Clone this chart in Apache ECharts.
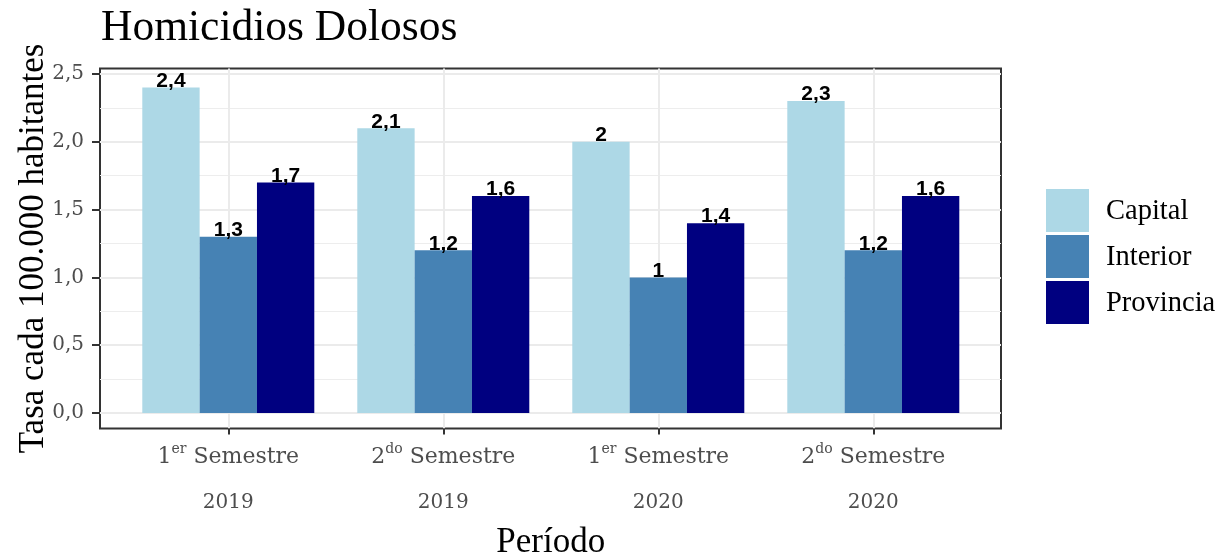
<!DOCTYPE html>
<html>
<head>
<meta charset="utf-8">
<script src="https://cdn.jsdelivr.net/npm/echarts@6/dist/echarts.min.js"></script>
<style>
html,body{margin:0;padding:0;background:#fff;}
#chart{width:1222px;height:557px;}
</style>
</head>
<body>
<div id="chart"></div>
<script>
// ---- data ----
const semNum = ['1', '2', '1', '2'];
const semSup = ['er', 'do', 'er', 'do'];
const years = ['2019', '2019', '2020', '2020'];
const categories = semNum.map((n, i) => n + semSup[i] + ' Semestre ' + years[i]);
const seriesNames = ['Capital', 'Interior', 'Provincia'];
const capital = [2.4, 2.1, 2.0, 2.3];
const interior = [1.3, 1.2, 1.0, 1.2];
const provincia = [1.7, 1.6, 1.4, 1.6];
const yTicks = [0, 0.5, 1.0, 1.5, 2.0, 2.5];

const colors = ['#ADD8E6', '#4682B4', '#000080'];
const serif = 'Liberation Serif';
const tickFont = 'DejaVu Serif';
const fmt = v => String(v).replace('.', ',');

const chart = echarts.init(document.getElementById('chart'));

function barSeries(name, data, idx) {
  return {
    name: name,
    type: 'bar',
    xAxisIndex: 1,
    yAxisIndex: 1,
    data: data,
    barGap: '0%',
    barCategoryGap: '20%',
    itemStyle: { color: colors[idx] },
    label: {
      show: true,
      position: 'top',
      distance: -4,
      formatter: p => fmt(p.value),
      fontFamily: 'Liberation Sans',
      fontWeight: 'bold',
      fontSize: 21,
      color: '#000'
    }
  };
}

const gridBase = { outerBoundsMode: 'none', containLabel: false };

chart.setOption({
  animation: false,
  backgroundColor: '#fff',
  title: {
    text: 'Homicidios Dolosos',
    left: 96,
    top: 2,
    padding: [5, 5, 5, 5],
    textStyle: { fontFamily: serif, fontWeight: 'normal', fontSize: 43.5, color: '#000' }
  },
  legend: {
    data: seriesNames,
    orient: 'vertical',
    left: 1046,
    top: 189,
    padding: 0,
    itemWidth: 43,
    itemHeight: 43,
    itemGap: 3,
    icon: 'rect',
    formatter: n => '{a|' + n + '}',
    textStyle: {
      rich: { a: { fontFamily: serif, fontSize: 28.5, color: '#000', padding: [3, 0, 0, 12] } }
    }
  },
  grid: [
    // A: y axis + horizontal grid lines across the full panel width
    Object.assign({ left: 100, top: 74, width: 901, height: 339 }, gridBase),
    // B: bars
    Object.assign({ left: 120.8, top: 74, width: 860, height: 339 }, gridBase),
    // C: x labels, ticks, vertical grid lines
    Object.assign({ left: 228.3, top: 68.5, width: 645, height: 360 }, gridBase),
    // D: panel border
    Object.assign({ left: 100, top: 68.5, width: 901, height: 360, show: true, borderColor: '#333333', borderWidth: 2, backgroundColor: 'transparent' }, gridBase)
  ],
  xAxis: [
    { gridIndex: 0, type: 'value', show: false, min: 0, max: 1 },
    { gridIndex: 1, type: 'category', data: categories, show: false },
    {
      gridIndex: 2, type: 'category', data: categories, boundaryGap: false, position: 'bottom',
      axisLine: { show: false, onZero: false },
      axisTick: { show: true, inside: false, length: 6, lineStyle: { color: '#333333', width: 2 } },
      splitLine: { show: true, lineStyle: { color: '#EBEBEB', width: 2 } },
      axisLabel: {
        margin: 14,
        interval: 0,
        formatter: (v, i) => '{n|' + semNum[i] + '}{s|' + semSup[i] + '}{n| Semestre}\n{y|' + years[i] + '}',
        rich: {
          n: { fontFamily: tickFont, fontSize: 22, color: '#4D4D4D', lineHeight: 30 },
          s: { fontFamily: tickFont, fontSize: 14, color: '#4D4D4D', lineHeight: 20, verticalAlign: 'top' },
          y: { fontFamily: tickFont, fontSize: 20, color: '#4D4D4D', lineHeight: 60 }
        }
      },
      name: 'Período',
      nameLocation: 'middle',
      nameGap: 97,
      nameTextStyle: { fontFamily: serif, fontSize: 35, color: '#000' }
    },
    { gridIndex: 3, type: 'value', show: false, min: 0, max: 1 }
  ],
  yAxis: [
    {
      gridIndex: 0, type: 'value', min: yTicks[0], max: yTicks[yTicks.length - 1], interval: 0.5,
      axisLine: { show: false },
      axisTick: { show: true, length: 8, lineStyle: { color: '#333333', width: 2 } },
      axisLabel: {
        margin: 16,
        formatter: v => v.toFixed(1).replace('.', ','),
        fontFamily: tickFont, fontSize: 20, color: '#4D4D4D'
      },
      splitLine: { show: true, lineStyle: { color: '#EBEBEB', width: 2 } },
      minorTick: { show: false, splitNumber: 2 },
      minorSplitLine: { show: true, lineStyle: { color: '#EDEDED', width: 1.2 } }
    },
    { gridIndex: 1, type: 'value', min: 0, max: 2.5, show: false },
    { gridIndex: 2, type: 'value', min: 0, max: 1, show: false },
    {
      gridIndex: 3, type: 'value', min: 0, max: 1, show: true,
      axisLine: { show: false }, axisTick: { show: false }, axisLabel: { show: false }, splitLine: { show: false },
      name: 'Tasa cada 100.000 habitantes',
      nameLocation: 'middle',
      nameGap: 49,
      nameTextStyle: { fontFamily: serif, fontSize: 35, color: '#000' }
    }
  ],
  series: [
    barSeries(seriesNames[0], capital, 0),
    barSeries(seriesNames[1], interior, 1),
    barSeries(seriesNames[2], provincia, 2)
  ]
});
</script>
</body>
</html>
